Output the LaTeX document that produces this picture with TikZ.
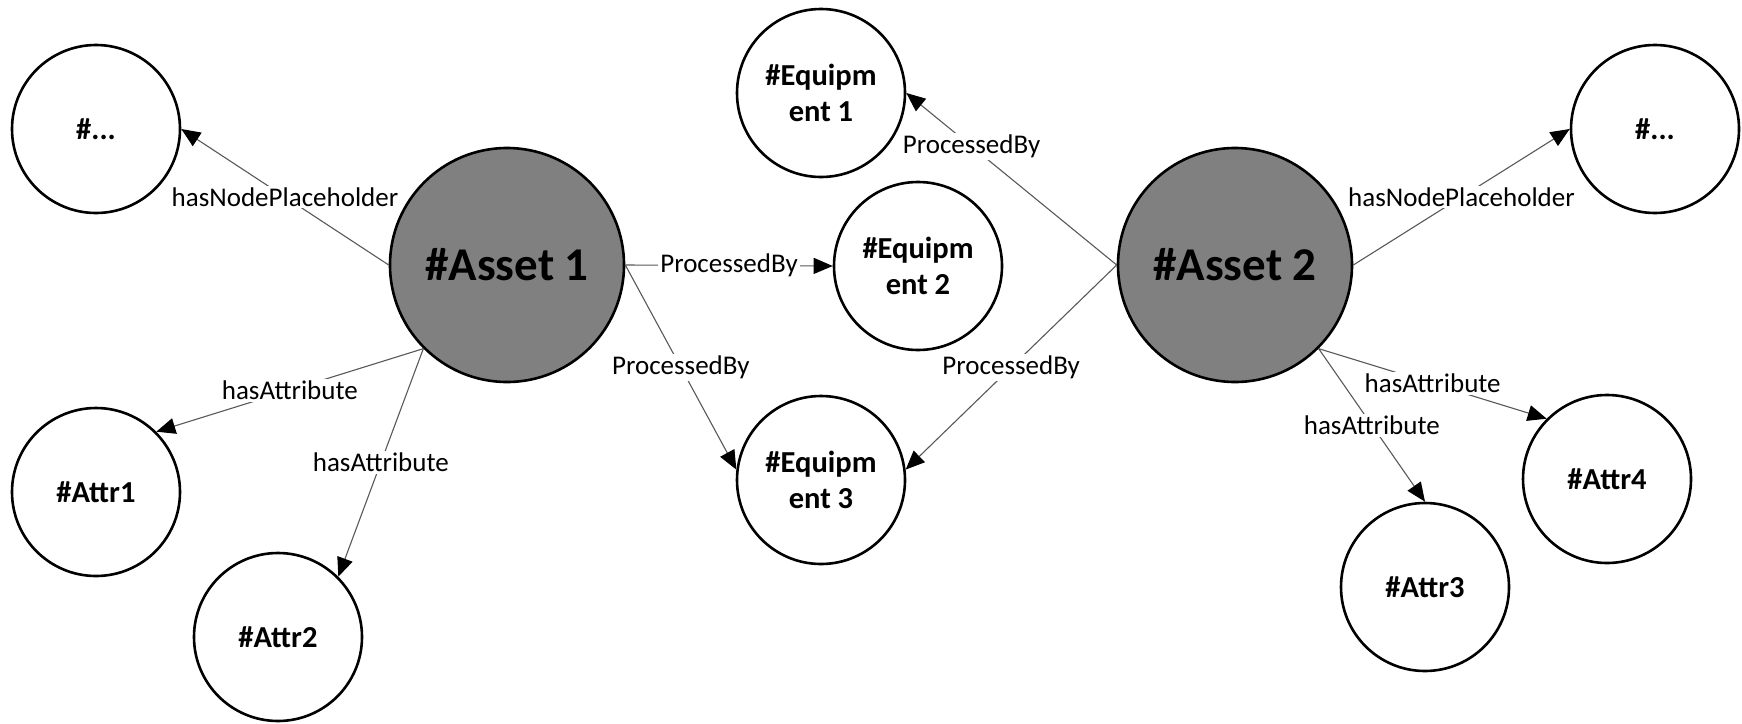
\documentclass[tikz,border=0pt]{standalone}
\usepackage{fontspec}
\setmainfont{Carlito}
\usetikzlibrary{arrows.meta}
\definecolor{assetgray}{RGB}{128,128,128}
\begin{document}
\begin{tikzpicture}[x=1pt,y=-1pt,
  small/.style={circle,draw=black,line width=2.6pt,fill=white,minimum size=168pt,inner sep=0pt,align=center,font=\fontsize{30.5}{36.6}\selectfont\bfseries},
  big/.style={circle,draw=black,line width=2.6pt,fill=assetgray,minimum size=234pt,inner sep=0pt,font=\fontsize{47}{56}\selectfont\bfseries},
  conn/.style={draw=black!65,line width=1.1pt,-{Triangle[length=19pt,width=16pt,color=black]}},
  lab/.style={fill=white,inner sep=2pt,text=black,font=\fontsize{27}{32}\selectfont}]
\useasboundingbox[fill=white] (0,0) rectangle (1742,723);

\node[small] (L)  at (96,129)  {\#...};
\node[small] (T1) at (96,492)  {\#Attr1};
\node[small] (T2) at (278,637) {\#Attr2};
\node[big]   (A1) at (507,265) {\#Asset 1};
\node[small] (E1) at (821,93)  {\#Equipm\\ent 1};
\node[small] (E2) at (918,266) {\#Equipm\\ent 2};
\node[small] (E3) at (821,480) {\#Equipm\\ent 3};
\node[big]   (A2) at (1235,265) {\#Asset 2};
\node[small] (R)  at (1655,129) {\#...};
\node[small] (T4) at (1607,479) {\#Attr4};
\node[small] (T3) at (1425,587) {\#Attr3};

\draw[conn] (A1.west) -- node[lab]{hasNodePlaceholder} (L.east);
\draw[conn] (A1.east) -- node[lab]{ProcessedBy} (E2.west);
\draw[conn] (A1.east) -- node[lab]{ProcessedBy} (E3.173);
\draw[conn] (A2.west) -- node[lab,pos=0.69]{ProcessedBy} (E1.east);
\draw[conn] (A2.west) -- node[lab]{ProcessedBy} (E3.7);
\draw[conn] (A1.south west) -- node[lab]{hasAttribute} (T1.north east);
\draw[conn] (A1.south west) -- node[lab]{hasAttribute} (T2.north east);
\draw[conn] (A2.east) -- node[lab]{hasNodePlaceholder} (R.west);
\draw[conn] (A2.south east) -- node[lab]{hasAttribute} (T4.north west);
\draw[conn] (A2.south east) -- node[lab]{hasAttribute} (T3.north);
\end{tikzpicture}
\end{document}
